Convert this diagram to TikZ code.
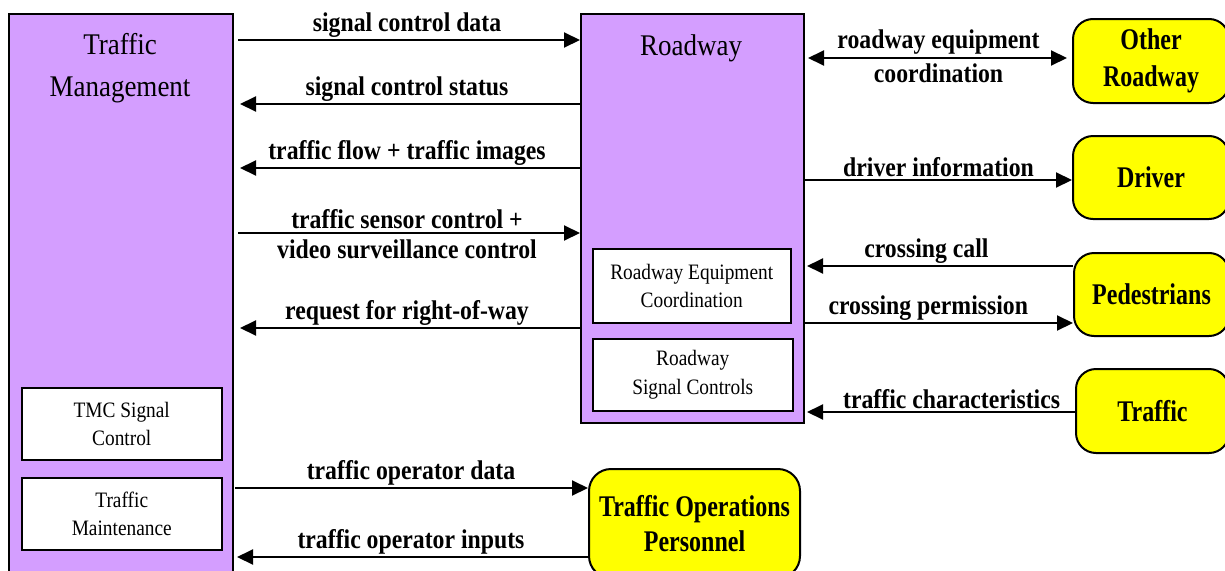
\documentclass[tikz,border=0pt]{standalone}
\usepackage{fontspec}
\setmainfont{Liberation Serif}
\newfontfamily\titlefont{Liberation Serif}[FakeStretch=0.9]
\newfontfamily\subfont{Liberation Serif}[FakeStretch=0.88]
\newfontfamily\labfont{Liberation Serif}[FakeStretch=0.88]
\newfontfamily\extfont{Liberation Serif}[FakeStretch=0.8]
\usetikzlibrary{arrows.meta,calc}
\definecolor{lav}{RGB}{212,158,255}
\definecolor{yel}{RGB}{255,255,0}
\begin{document}
\begin{tikzpicture}[x=1pt,y=-1pt,
  sys/.style={draw, line width=2pt, fill=lav, anchor=north west, inner sep=0pt},
  sub/.style={draw, line width=1.5pt, fill=white, anchor=north west, inner sep=0pt, align=center, font=\subfont\fontsize{22}{28.5}\selectfont},
  ext/.style={draw, line width=2pt, fill=yel, rounded corners=20pt, anchor=north west, inner sep=0pt, align=center, font=\extfont\bfseries\fontsize{30}{37}\selectfont},
  ttl/.style={align=center, font=\titlefont\fontsize{30}{42}\selectfont},
  flow/.style={line width=2pt, -{Triangle[length=16pt,width=15pt]}},
  both/.style={line width=2pt, {Triangle[length=16pt,width=15pt]}-{Triangle[length=16pt,width=15pt]}},
  lab/.style={font=\labfont\bfseries\fontsize{27}{31}\selectfont, inner sep=2pt},
]
\useasboundingbox (0,0) rectangle (1225,570);
\clip (0,0) rectangle (1225,570);

% systems
\node[sys, minimum width=224pt, minimum height=600pt] (tm) at (8,13) {};
\node[sys, minimum width=223pt, minimum height=409pt] (rw) at (580,13) {};
\node[ttl] (tmt) at (120,68) {Traffic\\Management};
\node[ttl] (rwt) at (691,48) {Roadway};
\node[sub, minimum width=198pt, minimum height=74pt] (rec) at (592,248) {Roadway Equipment\\Coordination};
\node[sub, minimum width=200pt, minimum height=72pt] (rsc) at (592,338) {Roadway\\Signal Controls};
\node[sub, minimum width=200pt, minimum height=72pt] (tmc) at (21,387) {TMC Signal\\Control};
\node[sub, minimum width=200pt, minimum height=72pt] (tmm) at (21,477) {Traffic\\Maintenance};

% terminators
\node[ext, minimum width=156pt, minimum height=84pt] (or) at (1072,18) {Other\\Roadway};
\node[ext, minimum width=156pt, minimum height=83pt] (dr) at (1072,135) {Driver};
\node[ext, minimum width=155pt, minimum height=83pt] (pd) at (1073,252) {Pedestrians};
\node[ext, minimum width=153pt, minimum height=84pt] (tr) at (1075,368) {Traffic};
\node[ext, minimum width=211pt, minimum height=109pt, rounded corners=22pt, font=\extfont\bfseries\fontsize{30}{35}\selectfont] (op) at (588,468) {Traffic Operations\\Personnel};

% TM <-> Roadway
\draw[flow, shorten <=4pt] (tm.east |- 0,40) -- node[lab, above]{signal control data} (rw.west |- 0,40);
\draw[flow, shorten >=6pt] (rw.west |- 0,104) -- node[lab, above]{signal control status} (tm.east |- 0,104);
\draw[flow, shorten >=6pt] (rw.west |- 0,168) -- node[lab, above]{traffic flow + traffic images} (tm.east |- 0,168);
\draw[flow, shorten <=4pt] (tm.east |- 0,233) -- node[lab, above, yshift=1pt]{traffic sensor control +} node[lab, below, yshift=-4pt]{video surveillance control} (rw.west |- 0,233);
\draw[flow, shorten >=6pt] (rw.west |- 0,328) -- node[lab, above]{request for right-of-way} (tm.east |- 0,328);

% Roadway <-> terminators
\draw[both, shorten <=3pt, shorten >=5pt] (rw.east |- 0,58) -- node[lab, above, yshift=1pt]{roadway equipment} node[lab, below, yshift=-3pt]{coordination} (or.west |- 0,58);
\draw[flow] (rw.east |- 0,180) -- node[lab, above]{driver information} (dr.west |- 0,180);
\draw[flow, shorten >=2pt] (pd.west |- 0,266) -- node[lab, above, pos=0.547]{crossing call} (rw.east |- 0,266);
\draw[flow] (rw.east |- 0,323) -- node[lab, above, pos=0.46]{crossing permission} (pd.west |- 0,323);
\draw[flow, shorten >=2pt] (tr.west |- 0,412) -- node[lab, above, pos=0.457]{traffic characteristics} (rw.east |- 0,412);

% TM <-> operators
\draw[flow, shorten <=1pt] (tm.east |- 0,488) -- node[lab, above]{traffic operator data} (op.west |- 0,488);
\draw[flow, shorten >=3pt] (op.west |- 0,557) -- node[lab, above]{traffic operator inputs} (tm.east |- 0,557);
\end{tikzpicture}
\end{document}
